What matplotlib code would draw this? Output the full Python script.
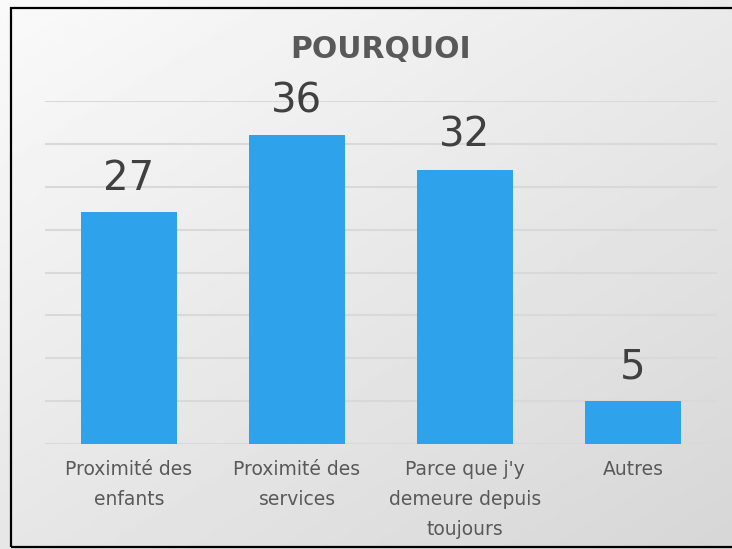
import numpy as np
import matplotlib.pyplot as plt
from matplotlib.patches import Rectangle

categories = ["Proximité des\nenfants", "Proximité des\nservices",
              "Parce que j'y\ndemeure depuis\ntoujours", "Autres"]
values = [27, 36, 32, 5]
title = "POURQUOI"

bar_color = "#2EA3EC"
grid_color = "#D9D9D9"

fig = plt.figure(figsize=(7.32, 5.49), dpi=100)

# background gradient, light top-left to grey bottom-right
bg = fig.add_axes([0, 0, 1, 1], zorder=-10)
yy, xx = np.mgrid[0:1:200j, 0:1:200j]
grad = 0.98 - 0.14 * (0.45 * xx + 0.55 * yy)
bg.imshow(grad, cmap="gray", vmin=0, vmax=1, extent=[0, 1, 0, 1],
          aspect="auto", origin="upper")
bg.add_patch(Rectangle((11 / 732, 2 / 549), 1.2, 539 / 549, fill=False,
                       edgecolor="black", linewidth=1.6,
                       transform=bg.transAxes))
bg.set_xlim(0, 1)
bg.set_ylim(0, 1)
bg.axis("off")

ax = fig.add_axes([45 / 732, 105 / 549, 672 / 732, 343 / 549])
ax.patch.set_alpha(0)
x = np.arange(len(values))
bars = ax.bar(x, values, width=0.57, color=bar_color, zorder=3)

ax.set_ylim(0, 40)
ax.set_xlim(-0.5, len(values) - 0.5)
ax.set_yticks(np.arange(0, 41, 5))
ax.yaxis.grid(True, color=grid_color, linewidth=1.5, zorder=0)
ax.tick_params(axis="y", left=False, labelleft=False)
ax.tick_params(axis="x", bottom=False, pad=8)
ax.set_xticks(x)
ax.set_xticklabels(categories, fontsize=13.5, color="#595959", linespacing=1.75)
for s in ax.spines.values():
    s.set_visible(False)

for b, v in zip(bars, values):
    ax.annotate(str(v), (b.get_x() + b.get_width() / 2, v),
                xytext=(0, 10), textcoords="offset points",
                ha="center", va="bottom", fontsize=29, color="#404040")

fig.text(381 / 732, 1 - 50 / 549, title, ha="center", va="center",
         fontsize=21.5, fontweight="bold", color="#595959")

fig.savefig("out.png", dpi=100)
